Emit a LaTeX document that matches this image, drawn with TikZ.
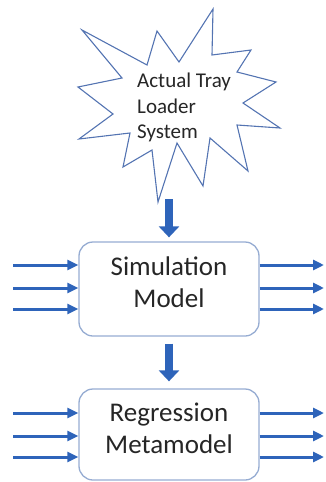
\documentclass[tikz,border=0pt]{standalone}
\usepackage{fontspec}
\setmainfont{Carlito}
\usetikzlibrary{arrows.meta}
\definecolor{arrowblue}{RGB}{46,100,186}
\definecolor{starblue}{RGB}{84,116,178}
\definecolor{boxedge}{RGB}{150,172,210}
\definecolor{txt}{RGB}{38,38,38}
\begin{document}
\begin{tikzpicture}[x=1pt,y=-1pt,
  inarrow/.style={arrowblue, line width=3pt, -{Triangle[width=10pt,length=11pt]}},
  bigarrow/.style={arrowblue, line width=8pt, -{Triangle[width=20pt,length=11pt]}},
  modelbox/.style={draw=boxedge, line width=1.3pt, rounded corners=14pt, minimum width=180pt, inner sep=0pt},
  boxtext/.style={font=\fontsize{27}{32}\selectfont, align=center, text=txt, inner sep=0pt},
  startext/.style={font=\fontsize{21}{25.5}\selectfont, align=left, text=txt, inner sep=0pt}
]
\useasboundingbox (0,0) rectangle (325,482);

% starburst
\draw[starblue, line width=1.1pt] (82,30) -- (122,78) -- (78,87) -- (113,114) -- (79,139) -- (130,133) -- (123,167) -- (152,150) -- (158,202) -- (177,143) -- (203,186) -- (210,138) -- (248,171) -- (237,125) -- (280,128) -- (243,103) -- (276,82) -- (237,72) -- (251,50) -- (212,55) -- (213,9) -- (179,62) -- (157,31) -- (147,65) -- cycle;
\node[startext, anchor=west] (sys) at (137,107.5) {Actual Tray\\Loader\\System};
\coordinate (starbot) at (169,199);

% boxes
\node[modelbox, minimum height=94pt] (sim) at (169,289) {};
\node[boxtext] (simtxt) at (169,282) {Simulation\\Model};
\node[modelbox, minimum height=91pt] (reg) at (169,434.5) {};
\node[boxtext] (regtxt) at (169,428) {Regression\\Metamodel};

% big arrows
\draw[bigarrow, shorten >=4pt] (starbot) -- (sim.north);
\draw[bigarrow, shorten <=7pt, shorten >=7pt] (sim.south) -- (reg.north);

% inputs / outputs
\foreach \y/\n in {265/1,288/2,309/3}{
  \coordinate (sl\n) at (13,\y);
  \coordinate (sr\n) at (324,\y);
  \draw[inarrow] (sl\n) -- (sl\n -| sim.west);
  \draw[inarrow] (sr\n -| sim.east) -- (sr\n);
}
\foreach \y/\n in {413/1,436/2,457/3}{
  \coordinate (rl\n) at (13,\y);
  \coordinate (rr\n) at (324,\y);
  \draw[inarrow] (rl\n) -- (rl\n -| reg.west);
  \draw[inarrow] (rr\n -| reg.east) -- (rr\n);
}
\end{tikzpicture}
\end{document}
